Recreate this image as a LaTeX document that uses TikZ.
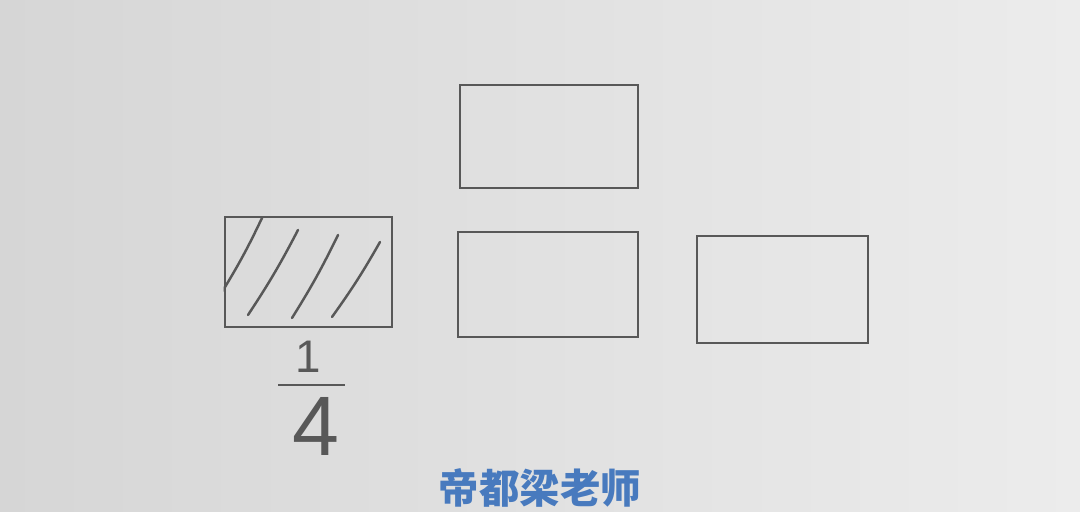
\documentclass[tikz,border=0pt]{standalone}
\usepackage{fontspec}
\setmainfont{Liberation Sans}
\newfontfamily\cjk{Noto Sans CJK SC}
\definecolor{paperdark}{RGB}{214,214,214}
\definecolor{paperlight}{RGB}{236,236,236}
\definecolor{pencil}{RGB}{88,88,88}
\definecolor{inkblue}{RGB}{72,122,190}
\tikzset{
	pencil box/.style={draw=pencil, line width=0.8pt, rectangle, inner sep=0pt},
	hatch/.style={draw=pencil, line width=0.7pt, line cap=round}
}

\begin{document}
\begin{tikzpicture}
	% Paper
	\shade[left color=paperdark, right color=paperlight] (0,0) rectangle (10.8,5.12);
	\useasboundingbox (0,0) rectangle (10.8,5.12);
	
	% The four parts
	\node[pencil box, minimum width=1.67cm, minimum height=1.10cm] (leftbox) at (3.085,2.40) {};
	\node[pencil box, minimum width=1.78cm, minimum height=1.03cm] (topbox) at (5.49,3.755) {};
	\node[pencil box, minimum width=1.80cm, minimum height=1.05cm] (midbox) at (5.48,2.275) {};
	\node[pencil box, minimum width=1.71cm, minimum height=1.07cm] (rightbox) at (7.825,2.225) {};
	
	% Shade the first part
	\begin{scope}
		\clip (leftbox.south west) rectangle (leftbox.north east);
		\draw[hatch] (2.62,2.94) to[bend left=3] (2.22,2.20);
		\draw[hatch] (2.98,2.82) to[bend left=3] (2.48,1.97);
		\draw[hatch] (3.38,2.77) to[bend left=3] (2.92,1.94);
		\draw[hatch] (3.80,2.70) to[bend left=3] (3.32,1.95);
	\end{scope}
	
	% Fraction below the shaded part
	\node[text=pencil, font=\fontsize{13}{15}\selectfont] (num) at (3.08,1.55) {1};
	\coordinate (barl) at (2.78,1.27);
	\coordinate (barr) at (3.45,1.27);
	\draw[pencil, line width=0.8pt] (barl) -- (barr);
	\node[text=pencil, font=\fontsize{24}{28}\selectfont] (den) at (3.16,0.86) {4};
	
	% Watermark
	\node[text=inkblue, font=\cjk\fontsize{11.5}{14}\selectfont\bfseries] (mark) at (5.40,0.24) {帝都梁老师};
\end{tikzpicture}
\end{document}
